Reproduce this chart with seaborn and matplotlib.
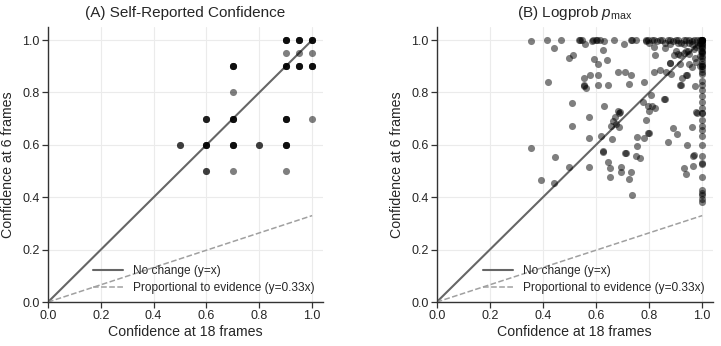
import numpy as np
import pandas as pd
import matplotlib
matplotlib.use("Agg")
import matplotlib.pyplot as plt
import seaborn as sns

# ---------------- data ----------------
# Panel A: self-reported confidence (discrete values, repeated points overlap)
a_x18 = ([0.9]*4 + [0.95]*4 + [1.0]*4 +
         [0.9, 0.95, 1.0] +
         [0.7]*4 + [0.9]*4 + [0.95]*4 + [1.0]*4 +
         [0.7] +
         [0.6]*3 + [0.7]*4 + [0.9]*4 + [1.0] +
         [0.5]*2 + [0.6]*4 + [0.7]*4 + [0.8]*2 + [0.9]*4 +
         [0.6]*2 + [0.7] + [0.9])
a_x6 = ([1.0]*12 +
        [0.95]*3 +
        [0.9]*16 +
        [0.8] +
        [0.7]*12 +
        [0.6]*16 +
        [0.5]*4)

# Panel B: logprob p_max
b_x18 = [0.356, 0.414, 0.467, 0.537, 0.540, 0.549, 0.558, 0.585, 0.590, 0.600,
         0.605, 0.616, 0.630, 0.669, 0.705, 0.730, 0.735, 0.750, 0.790, 0.790,
         0.795, 0.800, 0.810, 0.820, 0.830, 0.840, 0.850, 0.860, 0.870, 0.880,
         0.890, 0.900, 0.910, 0.920, 0.930, 0.940, 0.950, 0.960, 0.970, 0.980,
         0.990, 0.995, 1.0, 1.0, 1.0, 1.0, 1.0,
         0.99, 0.985, 0.995, 0.99, 0.975, 0.96, 0.97, 0.95, 0.93, 0.91, 0.88,
         0.86, 0.90, 0.93,
         1.0, 1.0, 1.0, 1.0, 1.0, 1.0, 1.0, 1.0, 1.0, 1.0,
         1.0, 1.0, 1.0, 1.0, 1.0, 1.0, 1.0, 1.0, 1.0, 1.0,
         1.0, 1.0, 1.0, 1.0, 1.0, 1.0, 1.0, 1.0, 1.0, 1.0,
         1.0, 1.0, 1.0, 1.0, 1.0, 1.0, 1.0, 1.0, 1.0, 1.0,
         0.44, 0.499, 0.514, 0.591, 0.628, 0.641, 0.606, 0.42, 0.556, 0.576,
         0.609, 0.553, 0.553, 0.564, 0.609, 0.644, 0.684, 0.71, 0.732, 0.723,
         0.78, 0.818, 0.84, 0.865, 0.884, 0.879, 0.893, 0.915, 0.82, 0.823,
         0.94, 0.95, 0.916, 0.94, 0.962, 0.972, 0.978, 0.99,
         0.919, 0.915, 0.972, 0.877, 0.91, 0.948, 0.952, 0.922, 0.944, 0.857,
         0.511, 0.511, 0.574, 0.629, 0.682, 0.688, 0.69, 0.673, 0.665, 0.657,
         0.688, 0.675,
         0.574, 0.619, 0.66, 0.711, 0.625, 0.628,
         0.777, 0.795, 0.808, 0.81, 0.798, 0.823, 0.789, 0.80, 0.782, 0.797,
         0.859, 0.89, 0.904, 0.871, 0.941, 0.96, 0.97, 0.98, 0.978,
         0.755, 0.755, 0.751, 0.766,
         0.356, 0.444, 0.499, 0.572, 0.391, 0.442,
         0.645, 0.653, 0.695, 0.695, 0.653, 0.725, 0.736, 0.732, 0.713,
         0.932, 0.94, 0.966, 0.966]
b_x6 = [0.995, 1.0, 1.0, 1.0, 1.0, 1.0, 0.986, 0.995, 1.0, 1.0,
        1.0, 1.0, 0.995, 1.0, 0.986, 1.0, 1.0, 1.0, 1.0, 0.995,
        1.0, 0.99, 1.0, 1.0, 0.995, 1.0, 1.0, 0.99, 1.0, 1.0,
        0.995, 1.0, 1.0, 0.99, 1.0, 1.0, 1.0, 0.995, 1.0, 1.0,
        1.0, 1.0, 1.0, 1.0, 1.0, 1.0, 1.0,
        0.99, 0.98, 0.96, 0.94, 0.975, 0.985, 0.965, 0.99, 0.985, 0.99, 0.985,
        0.97, 0.96, 0.95,
        0.995, 0.99, 0.985, 0.98, 0.975, 0.97, 0.96, 0.955, 0.95, 0.94,
        0.93, 0.92, 0.91, 0.90, 0.89, 0.88, 0.87, 0.845, 0.83, 0.81,
        0.785, 0.763, 0.742, 0.72, 0.72, 0.694, 0.672, 0.657, 0.634, 0.60,
        0.556, 0.53, 0.527, 0.476, 0.429, 0.417, 0.408, 0.395, 0.383, 0.90,
        0.971, 0.933, 0.942, 0.927, 0.964, 0.925, 0.908, 0.84, 0.855, 0.867,
        0.867, 0.828, 0.826, 0.816, 0.828, 0.828, 0.877, 0.879, 0.868, 0.833,
        0.84, 0.879, 0.886, 0.879, 0.872, 0.912, 0.942, 0.942, 0.974, 0.942,
        0.958, 0.945, 0.908, 0.868, 0.896, 0.931, 0.915, 0.90,
        0.828, 0.83, 0.823, 0.914, 0.945, 0.96, 0.91, 0.857, 0.868, 0.777,
        0.761, 0.672, 0.707, 0.747, 0.730, 0.72, 0.725, 0.707, 0.692, 0.672,
        0.669, 0.68,
        0.625, 0.634, 0.624, 0.568, 0.575, 0.573,
        0.763, 0.75, 0.792, 0.747, 0.73, 0.741, 0.694, 0.644, 0.625, 0.644,
        0.776, 0.663, 0.641, 0.61, 0.60, 0.669, 0.562, 0.72, 0.725,
        0.629, 0.594, 0.556, 0.551,
        0.587, 0.552, 0.516, 0.516, 0.465, 0.455,
        0.534, 0.511, 0.515, 0.496, 0.477, 0.469, 0.407, 0.496, 0.568,
        0.511, 0.489, 0.52, 0.559]

line_x = [0.0, 1.0]
slope_evidence = 0.33

titles = ["(A) Self-Reported Confidence", r"(B) Logprob $p_{\max}$"]
xlabel = "Confidence at 18 frames"
ylabel = "Confidence at 6 frames"
ticks = [0.0, 0.2, 0.4, 0.6, 0.8, 1.0]

df_a = pd.DataFrame({"x18": a_x18, "x6": a_x6})
df_b = pd.DataFrame({"x18": b_x18, "x6": b_x6})

# ---------------- style ----------------
sns.set_theme(style="whitegrid")
plt.rcParams["font.family"] = ["Liberation Sans", "DejaVu Sans"]
plt.rcParams["mathtext.fontset"] = "custom"
plt.rcParams["mathtext.rm"] = "Liberation Sans"
plt.rcParams["mathtext.it"] = "Liberation Sans:italic"
plt.rcParams["mathtext.bf"] = "Liberation Sans:bold"

fig = plt.figure(figsize=(7.21, 3.46), dpi=100)
ax_a = fig.add_axes([0.0666, 0.127, 0.381, 0.795])
ax_b = fig.add_axes([0.6057, 0.127, 0.383, 0.795])

for ax, df, title in [(ax_a, df_a, titles[0]), (ax_b, df_b, titles[1])]:
    sns.scatterplot(data=df, x="x18", y="x6", ax=ax, color="black",
                    alpha=0.5, s=26, linewidth=0, zorder=3, legend=False)
    sns.lineplot(x=line_x, y=line_x, ax=ax, color="#666666", lw=1.5,
                 label="No change (y=x)", zorder=2)
    sns.lineplot(x=line_x, y=[v * slope_evidence for v in line_x], ax=ax,
                 color="#a0a0a0", lw=1.1, linestyle="--",
                 label="Proportional to evidence (y=0.33x)", zorder=2)
    ax.set_xlim(0, 1.04)
    ax.set_ylim(0, 1.05)
    ax.set_xticks(ticks)
    ax.set_yticks(ticks)
    ax.set_xticklabels([f"{t:.1f}" for t in ticks], fontsize=9)
    ax.set_yticklabels([f"{t:.1f}" for t in ticks], fontsize=9)
    ax.set_xlabel(xlabel, fontsize=10.2, labelpad=2)
    ax.set_ylabel(ylabel, fontsize=10.2, labelpad=5)
    ax.set_title(title, fontsize=11, pad=7)
    ax.grid(True, color="#ebebeb", lw=0.8)
    for side in ["top", "right"]:
        ax.spines[side].set_visible(False)
    for side in ["left", "bottom"]:
        ax.spines[side].set_color("#333333")
        ax.spines[side].set_linewidth(1.0)
    ax.tick_params(axis="both", which="both", direction="out", length=4,
                   width=0.9, color="#333333", pad=2, bottom=True, left=True)
    leg = ax.legend(loc="lower right", frameon=False, fontsize=8.6,
                    handlelength=2.5, borderaxespad=0.3, labelspacing=0.4)

fig.savefig("out.png", dpi=100)
